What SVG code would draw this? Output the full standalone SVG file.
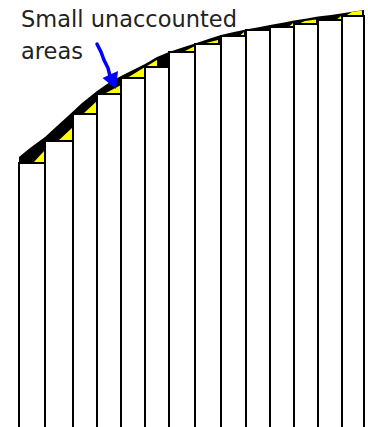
<svg xmlns="http://www.w3.org/2000/svg" width="368" height="427" viewBox="0 0 368 427">
  <style>
    .lbl { font-family: "DejaVu Sans", Verdana, sans-serif; font-size: 22.5px; fill: #222; }
    .bar { fill: #fff; stroke: #000; stroke-width: 2; }
    .gap { fill: #ffff00; stroke: none; }
  </style>
  <rect width="368" height="427" fill="#fff"/>
  <g id="curve-area">
    <path fill="#000" d="M19,157 L30,148 L45,137 L57,126 L68,116 L82,103 L97,91 L107,84 L121,76 L135,69 L145,64 L157,57 L169,52 L184,47 L195,43.5 L210,38.5 L221,35 L234,32 L246,29.5 L260,27 L270,25 L284,22.5 L294,20.5 L307,18.5 L318,16.5 L331,15 L341,13.5 L354,11.5 L364,10 L364,430 L19,430 Z"/>
  </g>
  <g id="yellow-gaps">
    <polygon class="gap" points="33,163 45,163 45,150"/>
    <polygon class="gap" points="58,141 73,141 73,127"/>
    <polygon class="gap" points="83,114 97,114 97,101"/>
    <polygon class="gap" points="104,94 121,94 121,85"/>
    <polygon class="gap" points="127,78 145,78 145,67"/>
    <polygon class="gap" points="147,66 157,66 157,60"/>
    <polygon class="gap" points="183,52 195,52 195,46"/>
    <polygon class="gap" points="204,43.5 218,43.5 218,40"/>
    <polygon class="gap" points="240,35.5 244,35.5 244,32"/>
    <polygon class="gap" points="289,26.5 293,26.5 293,23"/>
    <polygon class="gap" points="299,23.5 316,23.5 316,19.5 305,21"/>
    <polygon class="gap" points="337,19.5 341,19.5 341,16"/>
    <polygon class="gap" points="346,15.5 362,15.5 362,10.5 352,12"/>
  </g>
  <g id="bars">
    <rect class="bar" x="19" y="163" width="26" height="280"/>
    <rect class="bar" x="45" y="141" width="28" height="300"/>
    <rect class="bar" x="73" y="114" width="24" height="330"/>
    <rect class="bar" x="97" y="94" width="24" height="350"/>
    <rect class="bar" x="121" y="78" width="24" height="360"/>
    <rect class="bar" x="145" y="67" width="24" height="370"/>
    <rect class="bar" x="169" y="52" width="26" height="380"/>
    <rect class="bar" x="195" y="44" width="26" height="390"/>
    <rect class="bar" x="221" y="36" width="25" height="400"/>
    <rect class="bar" x="246" y="30" width="24" height="400"/>
    <rect class="bar" x="270" y="27" width="24" height="410"/>
    <rect class="bar" x="294" y="24" width="24" height="410"/>
    <rect class="bar" x="318" y="20" width="24" height="410"/>
    <rect class="bar" x="342" y="16" width="22" height="420"/>
  </g>
  <g id="label">
    <text class="lbl" x="21" y="27">Small unaccounted</text>
    <text class="lbl" x="21" y="59">areas</text>
  </g>
  <g id="connectors">
    <path d="M97,44 L101,52 L104,60 L108,68 L110,76" fill="none" stroke="#0000ff" stroke-width="3.5" stroke-linecap="round"/>
    <polygon points="102.5,78 118,71 116,89" fill="#0000ff"/>
  </g>
</svg>
